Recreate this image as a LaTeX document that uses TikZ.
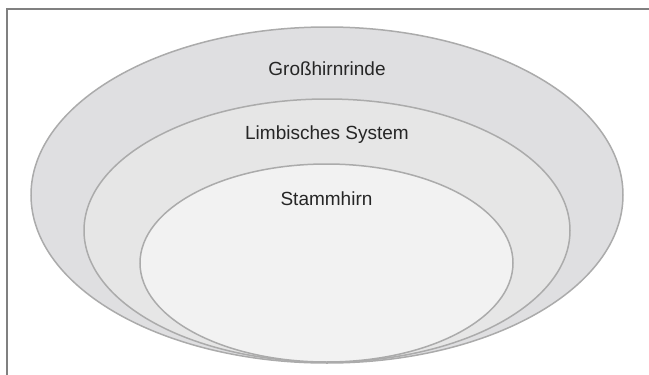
\documentclass[tikz,border=0pt]{standalone}
\usepackage{fontspec}
\setmainfont{Liberation Sans}
\definecolor{framegray}{HTML}{808080}
\definecolor{linegray}{HTML}{ABABAB}
\definecolor{outerfill}{HTML}{DFDFE1}
\definecolor{midfill}{HTML}{E6E6E6}
\definecolor{innerfill}{HTML}{F2F2F2}
\tikzset{
  layer/.style={draw=linegray, line width=1.5pt},
  lab/.style={font=\fontsize{19}{22}\selectfont, text=black!85, inner sep=0pt}
}
\begin{document}
\begin{tikzpicture}[x=1pt,y=-1pt]
\useasboundingbox (0,0) rectangle (649,375);
\fill[white] (0,0) rectangle (649,375);
\coordinate (tr) at (649,8.7);
\coordinate (tl) at (6.7,8.7);
\coordinate (bl) at (6.7,375);
\draw[framegray, line width=1.6pt] (tr) -- (tl) -- (bl);
\path[layer, fill=outerfill] (327,195) ellipse [x radius=296, y radius=168];
\path[layer, fill=midfill] (327,230.5) ellipse [x radius=243, y radius=131.5];
\path[layer, fill=innerfill] (326.5,263) ellipse [x radius=186.5, y radius=99];
\node[lab] (gross) at (327,69) {Großhirnrinde};
\node[lab] (limb) at (327,135) {Limbisches System};
\node[lab] (stamm) at (326.5,199) {Stammhirn};
\end{tikzpicture}
\end{document}
